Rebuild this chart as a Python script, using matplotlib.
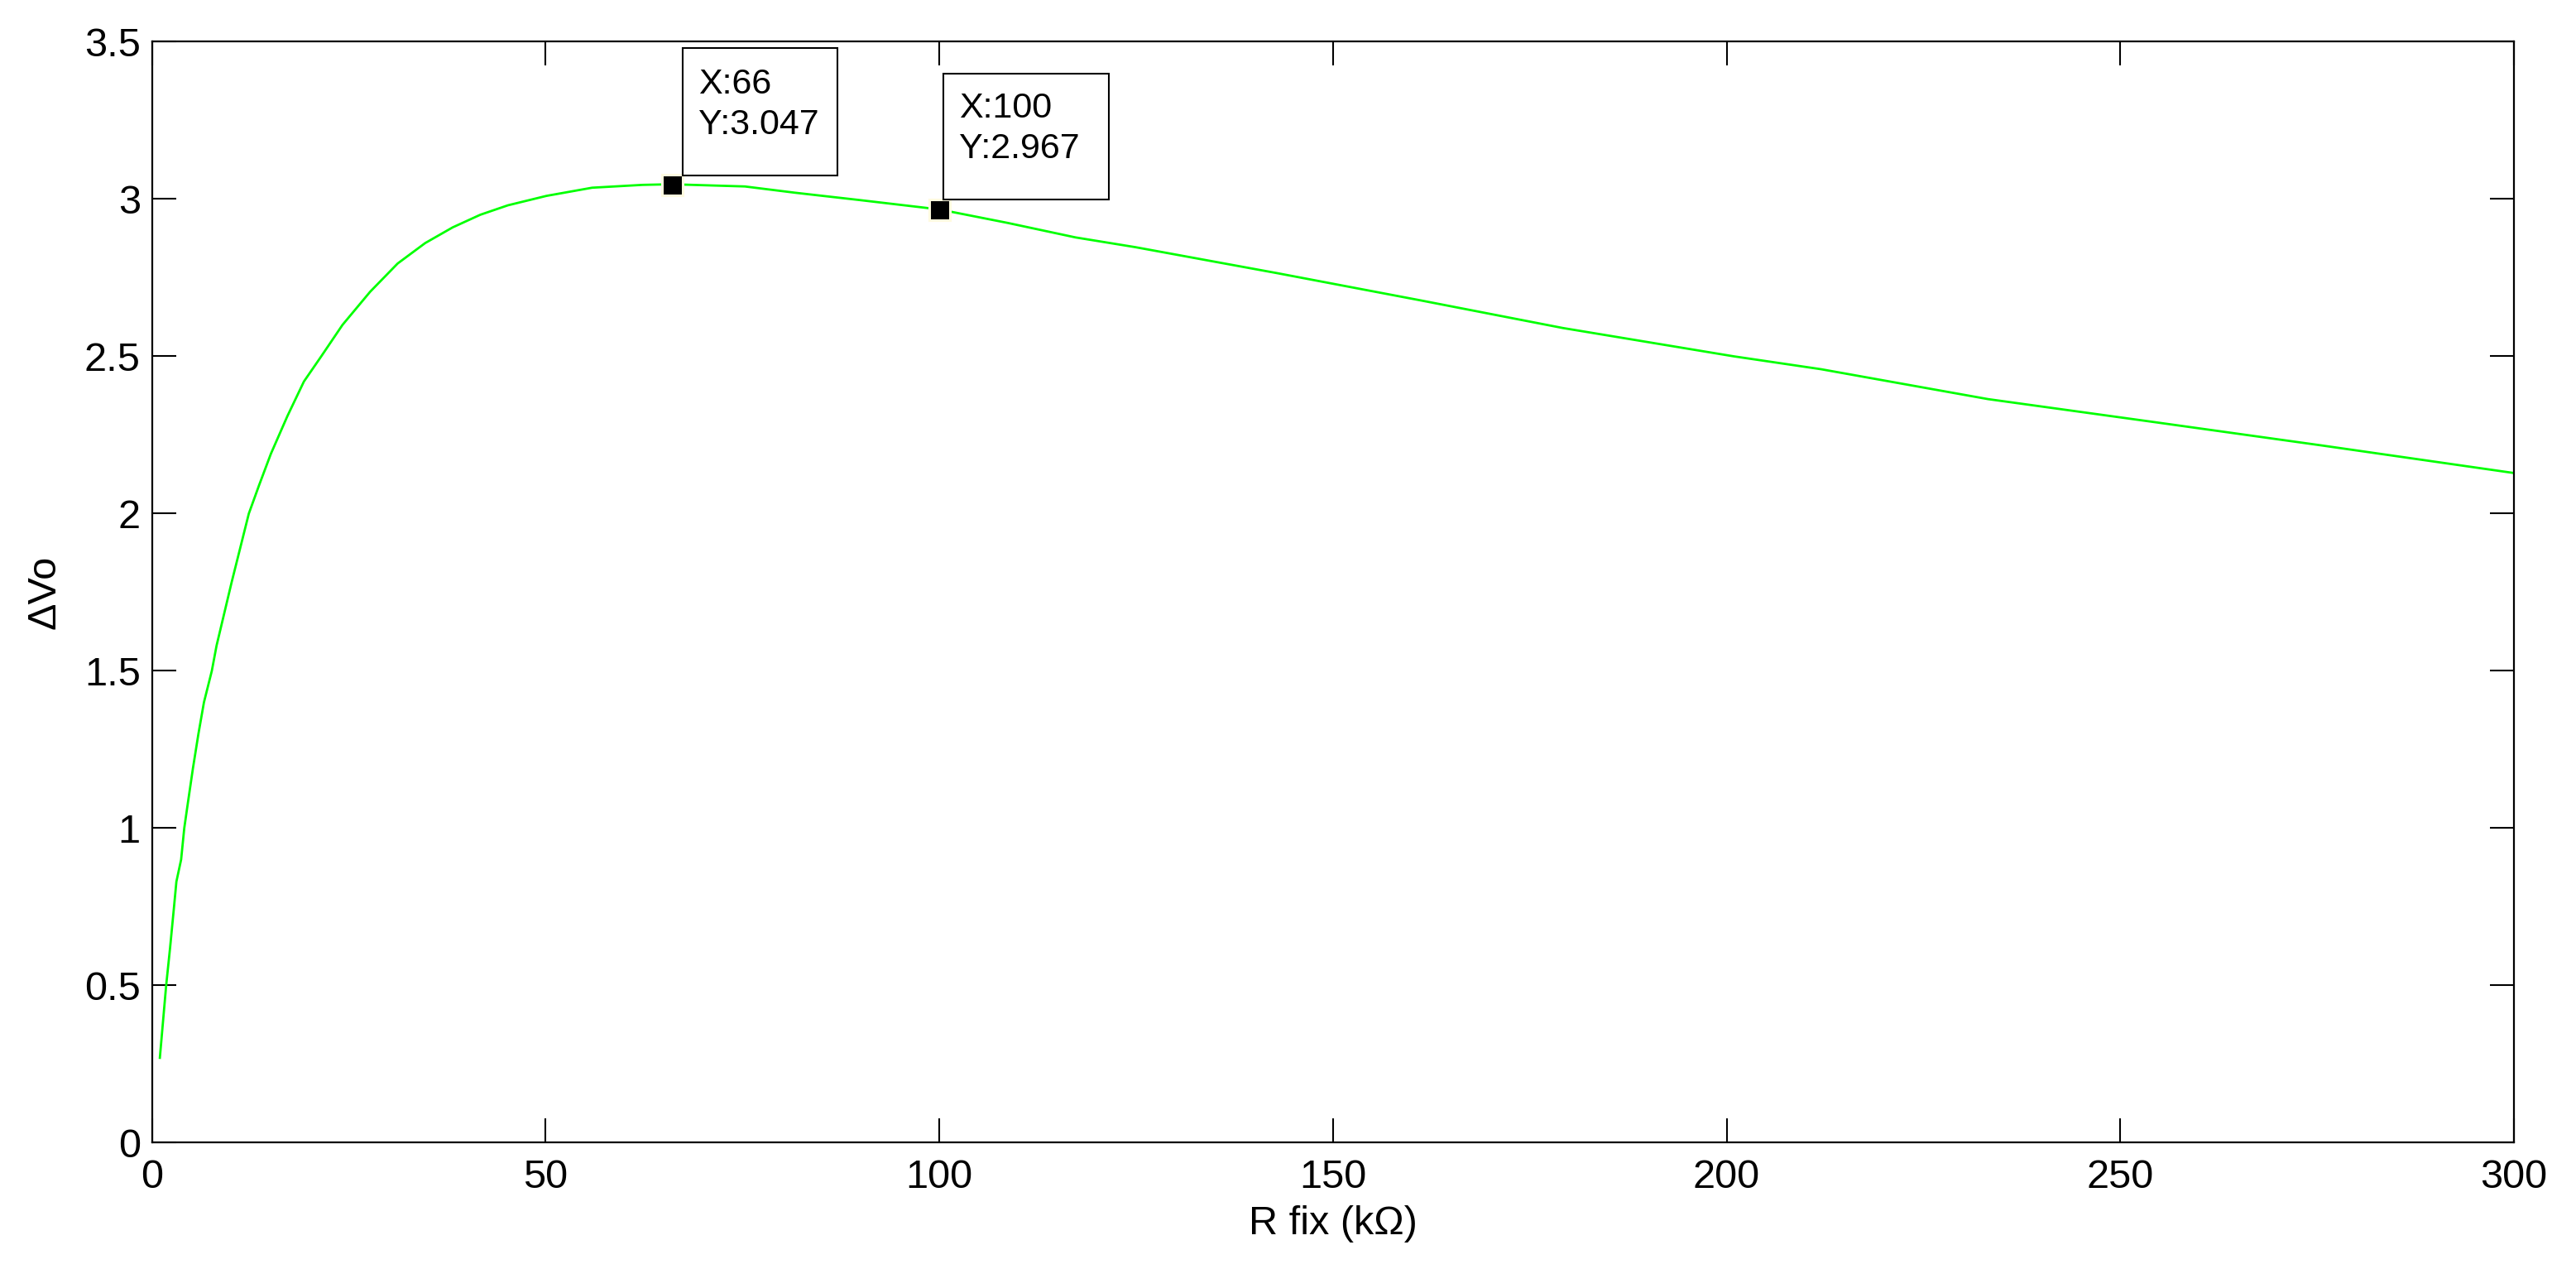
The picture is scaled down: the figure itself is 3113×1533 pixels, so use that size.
import matplotlib
matplotlib.use('Agg')
import matplotlib.pyplot as plt
from matplotlib.patches import Rectangle
from matplotlib.transforms import ScaledTranslation

# curve (R fix in kOhm, delta Vo in V)
r_fix = [1, 1.8, 2.3, 2.8, 3.1, 3.7, 4.1, 4.5, 5.2, 5.9, 6.6, 7.6, 8.2, 10.1,
         12.3, 13.6, 15.1, 17.2, 19.3, 21.5, 24.2, 27.7, 31.2, 34.7, 38.2,
         41.7, 45.2, 50.1, 55.9, 62.3, 66, 75.3, 81.7, 89.8, 100, 108.7,
         117.3, 124.9, 143, 161.1, 179.2, 200.9, 212, 233.2, 254.3, 275.5, 300]
dvo = [0.27, 0.50, 0.62, 0.75, 0.83, 0.90, 1.00, 1.07, 1.19, 1.30, 1.40, 1.50,
       1.58, 1.78, 2.00, 2.09, 2.19, 2.31, 2.42, 2.50, 2.60, 2.705, 2.795, 2.86,
       2.91, 2.95, 2.98, 3.01, 3.036, 3.045, 3.047, 3.040, 3.020, 2.997,
       2.967, 2.924, 2.878, 2.847, 2.764, 2.678, 2.59, 2.50, 2.459, 2.364,
       2.291, 2.217, 2.129]

# data tips
tip_x = [66, 100]
tip_y = [3.047, 2.967]

x_ticks = [0, 50, 100, 150, 200, 250, 300]
y_ticks = [0, 0.5, 1, 1.5, 2, 2.5, 3, 3.5]

plt.rcParams['font.family'] = ['Liberation Sans', 'DejaVu Sans']

fig = plt.figure(figsize=(31.13, 15.33), dpi=100)
ax = fig.add_axes([0.0590, 0.0995, 0.9169, 0.8676])

ax.plot(r_fix, dvo, color='#00ff00', lw=2.0)
ax.plot(tip_x, tip_y, ls='none', marker='s', ms=18, mfc='black',
        mec='#fffbe0', mew=2.2, zorder=5)

ax.set_xlim(0, 300)
ax.set_ylim(0, 3.5)
ax.set_xticks(x_ticks)
ax.set_yticks(y_ticks)
ax.set_yticklabels(['0', '0.5', '1', '1.5', '2', '2.5', '3', '3.5'])
ax.tick_params(direction='in', length=21, width=1.5, top=True, right=True,
               labelsize=35)
ax.tick_params(axis='x', pad=14)
ax.tick_params(axis='y', pad=10)
for s in ax.spines.values():
    s.set_linewidth(1.6)

ax.set_xlabel('R fix (k\u03a9)', fontsize=35, labelpad=8)
ax.set_ylabel('\u0394Vo', fontsize=35, labelpad=18)

# boxes of the data tips, sizes in inches (dpi 100)
box_dx = [0.13, 0.05]
box_dy = [0.11, 0.12]
box_w = [1.87, 2.00]
box_h = [1.54, 1.52]
for i in range(len(tip_x)):
    tr = fig.dpi_scale_trans + ScaledTranslation(tip_x[i], tip_y[i], ax.transData)
    x0, y0 = box_dx[i], box_dy[i]
    ax.add_artist(Rectangle((x0, y0), box_w[i], box_h[i], transform=tr,
                            fc='white', ec='black', lw=1.5, zorder=6,
                            clip_on=False))
    ax.text(x0 + 0.19, y0 + 0.99, 'X:%g' % tip_x[i], transform=tr,
            fontsize=31, va='baseline', ha='left', zorder=7)
    ax.text(x0 + 0.19, y0 + 0.50, 'Y:%.3f' % tip_y[i], transform=tr,
            fontsize=31, va='baseline', ha='left', zorder=7)

fig.savefig('out.png', dpi=100)
